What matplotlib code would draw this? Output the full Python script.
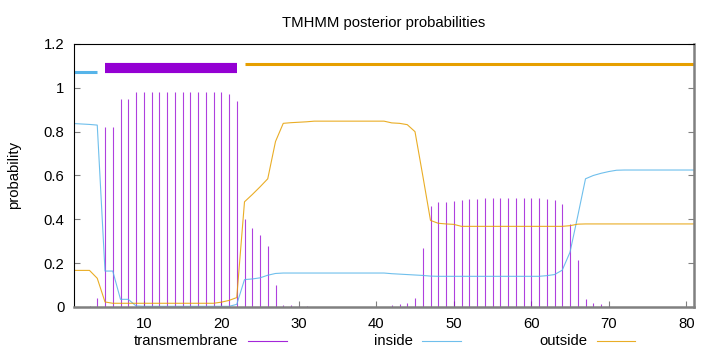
import matplotlib
matplotlib.use("Agg")
import matplotlib.pyplot as plt
from matplotlib.lines import Line2D
from matplotlib.ticker import FuncFormatter, MultipleLocator
import numpy as np

plt.rcParams['font.family'] = ['Liberation Sans', 'DejaVu Sans']

positions = list(range(1, 82))

transmembrane = [
    0.0, 0.0, 0.005, 0.04, 0.82, 0.82, 0.95, 0.95, 0.98, 0.98,
    0.98, 0.98, 0.98, 0.98, 0.98, 0.98, 0.98, 0.98, 0.98, 0.98,
    0.97, 0.94, 0.40, 0.36, 0.33, 0.28, 0.10, 0.01, 0.01, 0.005,
    0.005, 0.0, 0.0, 0.0, 0.0, 0.0, 0.0, 0.0, 0.0, 0.0,
    0.0, 0.01, 0.015, 0.02, 0.04, 0.27, 0.46, 0.48, 0.48, 0.485,
    0.49, 0.493, 0.495, 0.496, 0.496, 0.496, 0.496, 0.496, 0.496, 0.496,
    0.496, 0.492, 0.487, 0.47, 0.38, 0.215, 0.038, 0.02, 0.012, 0.004,
    0.0, 0.0, 0.0, 0.0, 0.0, 0.0, 0.0, 0.0, 0.0, 0.0,
    0.0,
]

inside = [
    0.837, 0.835, 0.833, 0.83, 0.164, 0.164, 0.035, 0.035, 0.005, 0.003,
    0.003, 0.003, 0.003, 0.003, 0.003, 0.003, 0.003, 0.003, 0.003, 0.003,
    0.003, 0.012, 0.125, 0.128, 0.133, 0.145, 0.153, 0.155, 0.155, 0.155,
    0.155, 0.155, 0.155, 0.155, 0.155, 0.155, 0.155, 0.155, 0.155, 0.155,
    0.155, 0.152, 0.150, 0.148, 0.146, 0.144, 0.141, 0.140, 0.140, 0.140,
    0.140, 0.140, 0.140, 0.140, 0.140, 0.140, 0.140, 0.140, 0.140, 0.140,
    0.140, 0.143, 0.148, 0.168, 0.25, 0.415, 0.585, 0.60, 0.61, 0.618,
    0.624, 0.625, 0.625, 0.625, 0.625, 0.625, 0.625, 0.625, 0.625, 0.625,
    0.625,
]

outside = [
    0.167, 0.167, 0.167, 0.131, 0.023, 0.017, 0.017, 0.017, 0.017, 0.017,
    0.017, 0.017, 0.017, 0.017, 0.017, 0.017, 0.017, 0.017, 0.017, 0.022,
    0.03, 0.043, 0.48, 0.513, 0.548, 0.585, 0.755, 0.838, 0.841, 0.843,
    0.845, 0.848, 0.848, 0.848, 0.848, 0.848, 0.848, 0.848, 0.848, 0.848,
    0.848, 0.84, 0.838, 0.832, 0.80, 0.60, 0.395, 0.382, 0.379, 0.377,
    0.368, 0.368, 0.368, 0.368, 0.368, 0.368, 0.368, 0.368, 0.368, 0.368,
    0.368, 0.368, 0.368, 0.368, 0.371, 0.378, 0.379, 0.379, 0.379, 0.379,
    0.379, 0.379, 0.379, 0.379, 0.379, 0.379, 0.379, 0.379, 0.379, 0.379,
    0.379,
]

# topology segments: (label, start, end)
seg_inside = [(1, 4)]
seg_tm = [(5, 22)]
seg_outside = [(23, 81)]

C_TM = '#9400D3'
C_IN = '#56B4E9'
C_OUT = '#E69F00'

fig = plt.figure(figsize=(7.2, 3.52), dpi=100)
W, H = 720, 352
ax = fig.add_axes([74 / W, 1 - 307 / H, (694 - 74) / W, (307 - 44) / H])

ax.vlines(positions, 0, transmembrane, color=C_TM, lw=0.8, alpha=0.75)
ax.plot(positions, inside, color=C_IN, lw=0.8, alpha=0.85)
ax.plot(positions, outside, color=C_OUT, lw=0.8, alpha=0.85)

for s, e in seg_inside:
    ax.plot([s, e], [1.07, 1.07], color=C_IN, lw=2.2, solid_capstyle='butt')
for s, e in seg_tm:
    ax.plot([s, e], [1.09, 1.09], color=C_TM, lw=7.3, solid_capstyle='butt')
for s, e in seg_outside:
    ax.plot([s, e], [1.11, 1.11], color=C_OUT, lw=2.2, solid_capstyle='butt')

ax.set_xlim(1, 81)
ax.set_ylim(0, 1.2)
ax.xaxis.set_major_locator(MultipleLocator(10))
ax.yaxis.set_major_locator(MultipleLocator(0.2))
ax.yaxis.set_major_formatter(FuncFormatter(lambda v, p: '%g' % round(v, 2)))

ax.tick_params(axis='both', direction='in', length=4, width=0.8, color='#808080',
               labelsize=10.7, pad=7)
ax.tick_params(axis='y', right=True, labelright=False)
for side in ['left', 'top']:
    ax.spines[side].set_color('black')
    ax.spines[side].set_linewidth(0.8)
for side in ['right', 'bottom']:
    ax.spines[side].set_color('#808080')
    ax.spines[side].set_linewidth(1.8)

fig.text((74 + 694) / 2 / W, 1 - 27 / H, 'TMHMM posterior probabilities',
         ha='center', va='baseline', fontsize=10.7)
fig.text(14 / W, 1 - 175 / H, 'probability', rotation=90,
         ha='center', va='center', fontsize=10.7)

legend_items = [('transmembrane', C_TM, 238, 248, 287),
                ('inside', C_IN, 413, 422, 461),
                ('outside', C_OUT, 587, 597, 635)]
for label, col, tx, l0, l1 in legend_items:
    fig.text(tx / W, 1 - 345 / H, label, ha='right', va='baseline', fontsize=10.7)
    fig.add_artist(Line2D([l0 / W, l1 / W], [1 - 341 / H, 1 - 341 / H],
                          color=col, lw=0.8, alpha=0.85, transform=fig.transFigure))

fig.savefig('out.png', dpi=100)
